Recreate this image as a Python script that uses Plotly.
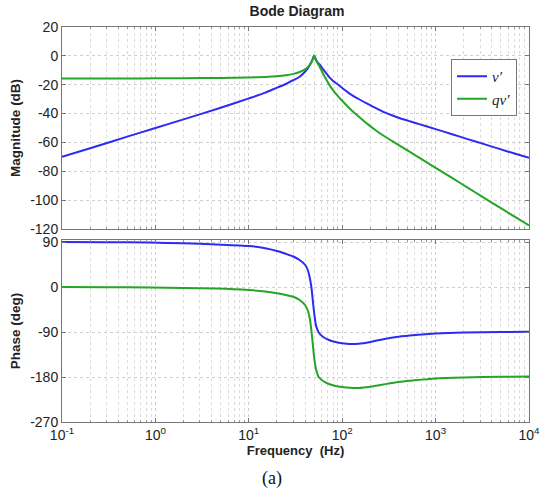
import plotly.graph_objects as go
from plotly.subplots import make_subplots

# Magnitude readings (Hz, dB)
freq_mag = [0.1, 0.2, 0.5, 1, 2, 5, 10, 15, 20, 25, 30, 35, 40, 43, 45, 47, 48.5, 50,
            51.5, 53, 55, 58, 62, 67, 74, 80, 90, 100, 121, 150, 183, 230, 275, 340,
            416, 540, 681, 1000, 1500, 2200, 3240, 5000, 7000, 10000]
mag_v = [-70, -64, -56, -50, -44, -36, -29.5, -25.5, -22, -19.5, -16.8, -14.5, -11,
         -8.5, -6.3, -4, -2, 0.3, -1.5, -3.3, -4.8, -6.5, -9, -11.8, -15.3, -17.5,
         -19.9, -22.3, -26.3, -29.9, -33, -36.3, -38.8, -41.2, -43.2, -45.5, -47.5,
         -50.8, -54.3, -57.7, -61, -64.8, -67.7, -70.6]
mag_qv = [-15.7, -15.7, -15.7, -15.6, -15.5, -15.3, -15, -14.6, -14.1, -13.4, -12.5,
          -11.2, -9.4, -7.7, -6.2, -4.2, -2.2, 0.3, -2, -3.8, -5.5, -8.3, -12, -16,
          -20.8, -23.9, -27.9, -31.1, -36.6, -42, -46.8, -51.7, -55.2, -58.9, -62.4,
          -66.9, -70.9, -77.6, -84.6, -91.3, -98.1, -105.6, -111.4, -117.5]

# Phase readings (Hz, deg)
freq_ph = [0.1, 0.3, 0.875, 2, 4.5, 10, 15, 20, 23.5, 27, 30, 35, 40, 43, 45, 47, 49,
           50.5, 52.4, 56, 62.6, 72, 85, 100, 121, 150, 200, 275, 400, 600, 1000,
           2000, 5000, 10000]
ph_v = [90, 89.7, 88.8, 87.5, 85, 82, 77.5, 72, 68, 64, 61, 54, 44.5, 33, 18, -3, -36,
        -57, -77, -91, -100, -106, -110, -112.5, -114, -113.5, -110, -104.5, -99.5,
        -96, -93, -91, -90.2, -89.6]
ph_qv = [0, -0.3, -1.2, -2, -3, -6, -9, -12.5, -15, -17.5, -19.5, -26, -36, -48, -63,
         -90, -124, -146, -164, -180, -188, -194, -198, -200, -201.5, -202, -199.5,
         -195, -190, -186.5, -183, -181, -179.5, -179]

x_tickvals = [0.1, 1, 10, 100, 1000, 10000]
x_ticktext = ["10<sup>-1</sup>", "10<sup>0</sup>", "10<sup>1</sup>", "10<sup>2</sup>",
              "10<sup>3</sup>", "10<sup>4</sup>"]
mag_ticks = [20, 0, -20, -40, -60, -80, -100, -120]
ph_ticks = [90, 0, -90, -180, -270]

BLUE = "#2b2bf2"
GREEN = "#25a525"
FONT = "Liberation Sans, Arial"
SERIF = "Liberation Serif, Times New Roman"

fig = make_subplots(rows=2, cols=1, shared_xaxes=False, vertical_spacing=0.03)

line_v = dict(color=BLUE, width=2, shape="spline", smoothing=0.6)
line_qv = dict(color=GREEN, width=2, shape="spline", smoothing=0.6)
fig.add_trace(go.Scatter(x=freq_mag, y=mag_v, mode="lines", name="<i>v′</i>",
                         line=line_v), row=1, col=1)
fig.add_trace(go.Scatter(x=freq_mag, y=mag_qv, mode="lines", name="<i>qv′</i>",
                         line=line_qv), row=1, col=1)
fig.add_trace(go.Scatter(x=freq_ph, y=ph_v, mode="lines", showlegend=False,
                         line=line_v), row=2, col=1)
fig.add_trace(go.Scatter(x=freq_ph, y=ph_qv, mode="lines", showlegend=False,
                         line=line_qv), row=2, col=1)

xaxis_common = dict(
    type="log", range=[-1, 4], showline=True, linecolor="#777", linewidth=1,
    mirror="allticks", ticks="inside", ticklen=4, tickcolor="#777",
    tickvals=x_tickvals, automargin=False,
    showgrid=True, gridcolor="#cfcfcf", griddash="dot", gridwidth=1,
    minor=dict(dtick="D1", showgrid=True, gridcolor="#dcdcdc", griddash="dot",
               ticks="inside", ticklen=2, tickcolor="#999"),
    zeroline=False,
    tickfont=dict(family=FONT, size=14, color="#222"),
)

fig.update_xaxes(**xaxis_common, row=1, col=1, showticklabels=False)
fig.update_xaxes(**xaxis_common, row=2, col=1, ticktext=x_ticktext,
                 title=dict(text="<b>Frequency  (Hz)</b>", standoff=2,
                            font=dict(family=FONT, size=13, color="#222")))

yaxis_common = dict(
    showline=True, linecolor="#777", linewidth=1, mirror="allticks", ticks="inside",
    ticklen=4, tickcolor="#777", showgrid=True, gridcolor="#cfcfcf", griddash="dot",
    zeroline=False, automargin=False,
    tickfont=dict(family=FONT, size=14, color="#222"),
)
fig.update_yaxes(**yaxis_common, row=1, col=1, range=[-120, 20], tickvals=mag_ticks,
                 ticktext=[str(v) for v in mag_ticks],
                 title=dict(text="<b>Magnitude (dB)</b>", standoff=6,
                            font=dict(family=FONT, size=13.5, color="#222")))
fig.update_yaxes(**yaxis_common, row=2, col=1, range=[-270, 94], tickvals=ph_ticks,
                 ticktext=[str(v) for v in ph_ticks],
                 title=dict(text="<b>Phase (deg)</b>", standoff=6,
                            font=dict(family=FONT, size=13.5, color="#222")))

fig.update_layout(
    width=541, height=494,
    margin=dict(l=62, r=12, t=27, b=72, autoexpand=False),
    paper_bgcolor="white", plot_bgcolor="white",
    title=dict(text="<b>Bode Diagram</b>", x=297 / 541, xanchor="center",
               xref="container", yref="container", y=1 - 11 / 494, yanchor="middle",
               font=dict(family=FONT, size=14, color="#222")),
    legend=dict(x=(451 - 62) / 467, y=(422 - 59) / 395, xanchor="left", yanchor="top",
                bgcolor="white", bordercolor="#777", borderwidth=1,
                font=dict(family=SERIF, size=15, color="#222")),
    annotations=[dict(text="(a)", x=(272 - 62) / 467, xref="paper",
                      y=(422 - 478) / 395, yref="paper",
                      showarrow=False, xanchor="center", yanchor="middle",
                      font=dict(family=SERIF, size=18, color="#111"))],
)
fig.layout.yaxis.domain = [(422 - 229) / 395, 1.0]
fig.layout.yaxis2.domain = [0.0, (422 - 240) / 395]

fig.write_html(
    "out.html",
    config={"displayModeBar": False},
    post_script="document.body.style.margin='0';document.body.style.padding='0';"
                "document.body.style.overflow='hidden';",
)
